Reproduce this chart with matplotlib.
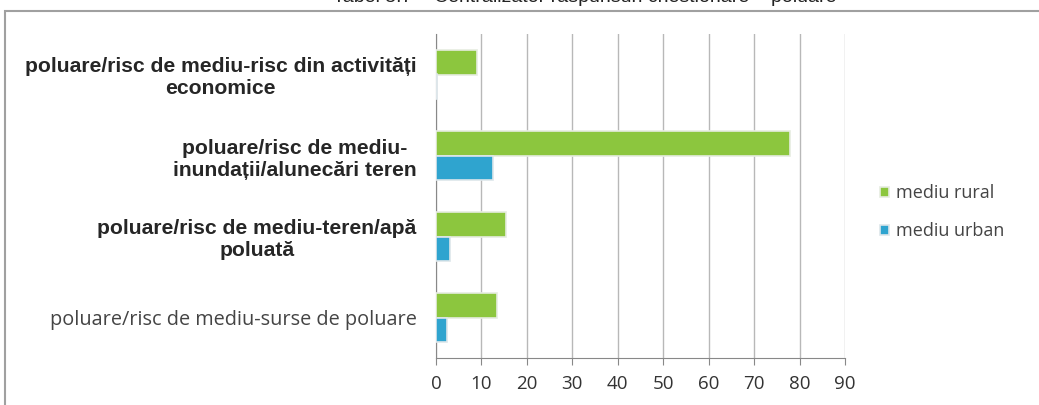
import matplotlib
matplotlib.use("Agg")
import matplotlib.pyplot as plt
from matplotlib.patches import Rectangle
import numpy as np

categories = [
    "poluare/risc de mediu-surse de poluare",
    "poluare/risc de mediu-teren/apă\npoluată",
    "poluare/risc de mediu-\ninundații/alunecări teren",
    "poluare/risc de mediu-risc din activități\neconomice",
]
rural = [13.5, 15.5, 78, 9]
urban = [2.5, 3, 12.5, 0.3]
series_names = ["mediu rural", "mediu urban"]
xticks = list(range(0, 100, 10))
title = "Tabel 5.7 – Centralizator răspunsuri chestionare – poluare"

plt.rcParams['font.family'] = ['Liberation Sans', 'DejaVu Sans']

fig = plt.figure(figsize=(10.39, 4.05), dpi=100)
ax = fig.add_axes([436/1039, 1-358/405, (845-436)/1039, (358-34)/405])

y = np.arange(len(categories))
h = 0.3
green = "#8CC63E"
blue = "#2FA4CF"
ax.barh(y + h/2, rural, height=h, color=green, edgecolor="#e6ece0", linewidth=1.2,
        label=series_names[0], zorder=3)
ax.barh(y - h/2, urban, height=h, color=blue, edgecolor="#dde6ea", linewidth=1.2,
        label=series_names[1], zorder=3)

ax.set_xlim(0, 90)
ax.set_ylim(-0.5, len(categories) - 0.5)
ax.set_xticks(xticks)
ax.set_xticklabels([str(t) for t in xticks], fontsize=13.5, color="#333333",
                   family=["Open Sans", "DejaVu Sans"])
ax.set_yticks(y)
ax.set_yticklabels(categories, fontsize=15.2, color="#262626", multialignment="center")
for i, lab in enumerate(ax.get_yticklabels()):
    if i == 0:
        lab.set_fontweight("normal")
        lab.set_color("#444444")
        lab.set_family(["Open Sans", "DejaVu Sans"])
        lab.set_fontsize(14.3)
    else:
        lab.set_fontweight("bold")
ax.tick_params(axis="y", length=0, pad=14)
ax.tick_params(axis="x", length=5, color="#888888", pad=7)
ax.grid(axis="x", color="#b8b8b8", linewidth=1, zorder=0)
for s in ["top", "right"]:
    ax.spines[s].set_visible(False)
for s in ["left", "bottom"]:
    ax.spines[s].set_color("#888888")

ax.legend(loc="center left", bbox_to_anchor=(1.045, 0.45), frameon=False,
          prop={"family": ["Open Sans", "DejaVu Sans"], "size": 13},
          handlelength=0.5, handleheight=0.5, handletextpad=0.4,
          labelspacing=1.1, labelcolor="#444444")

fig.patches.append(Rectangle((5/1039, -0.05), 1.1, 1 - 11/405 + 0.05,
                             transform=fig.transFigure, fill=False,
                             edgecolor="#a0a0a0", linewidth=1.5))
fig.text(585/1039, 1 + 2/405, title, ha="center", va="center", fontsize=14, color="#222222")

fig.savefig("out.png", dpi=100)
